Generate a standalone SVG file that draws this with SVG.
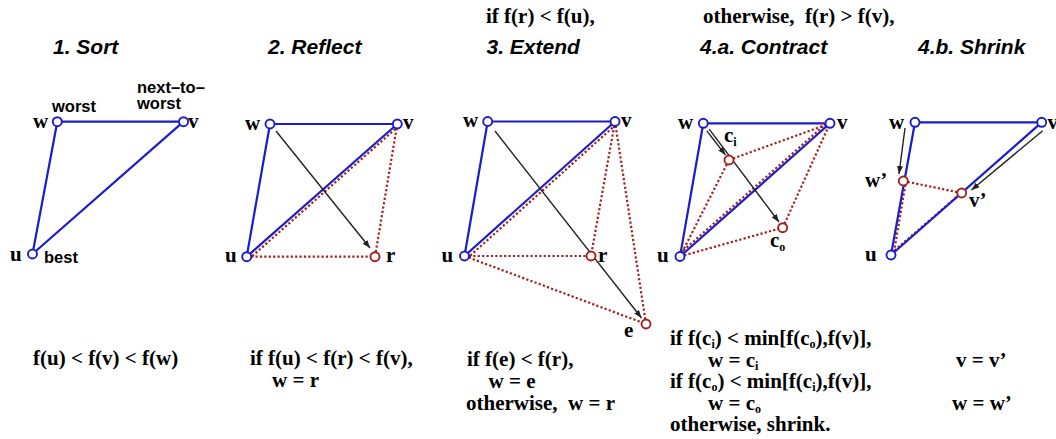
<svg xmlns="http://www.w3.org/2000/svg" width="1056" height="439" viewBox="0 0 1056 439">
<defs>
<marker id="ah" markerWidth="9" markerHeight="7" refX="8" refY="3" orient="auto" markerUnits="userSpaceOnUse"><path d="M0,0 L8,3 L0,6 z" fill="#222"/></marker>
<style>
.blue{stroke:#1c1cc8;stroke-width:2.2;fill:none}
.red{stroke:#a32020;stroke-width:2.2;stroke-dasharray:2.2 2.2;fill:none}
.arr{stroke:#222;stroke-width:1.4;fill:none;marker-end:url(#ah)}
.nb{fill:#fff;stroke:#1c1cc8;stroke-width:1.9}
.nr{fill:#fff;stroke:#a32020;stroke-width:1.9}
.lab{font-family:"Liberation Serif",serif;font-weight:bold;font-size:21px;fill:#000;white-space:pre}
.ttl{font-family:"Liberation Sans",sans-serif;font-weight:bold;font-style:italic;font-size:21px;fill:#000}
.sl{font-family:"Liberation Sans",sans-serif;font-weight:bold;font-size:16.5px;fill:#000}
.sub{font-size:12px}
</style>
</defs>
<rect width="1056" height="439" fill="#fff"/>

<g id="connectors">
  <!-- panel 1 -->
  <line class="blue" x1="57.3" y1="121.7" x2="183.5" y2="121.7"/>
  <line class="blue" x1="57.3" y1="121.7" x2="32.5" y2="254"/>
  <line class="blue" x1="32.5" y1="254" x2="183.5" y2="121.7"/>
  <!-- panel 2 -->
  <line class="red" x1="249" y1="259" x2="397" y2="127.5"/>
  <line class="red" x1="397.3" y1="124" x2="375" y2="256.7"/>
  <line class="red" x1="246.7" y1="256.7" x2="375" y2="256.7"/>
  <line class="blue" x1="270" y1="124" x2="397.3" y2="124"/>
  <line class="blue" x1="270" y1="124" x2="246.7" y2="256.7"/>
  <line class="blue" x1="246.7" y1="256.7" x2="397.3" y2="124"/>
  <line class="arr" x1="276" y1="131" x2="370" y2="248"/>
  <!-- panel 3 -->
  <line class="red" x1="467" y1="258.5" x2="615.5" y2="125"/>
  <line class="red" x1="615" y1="121.5" x2="591" y2="256"/>
  <line class="red" x1="464.5" y1="256" x2="591" y2="256"/>
  <line class="red" x1="464.5" y1="256" x2="646" y2="324"/>
  <line class="red" x1="615" y1="121.5" x2="646" y2="324"/>
  <line class="blue" x1="487.7" y1="121.5" x2="615" y2="121.5"/>
  <line class="blue" x1="487.7" y1="121.5" x2="464.5" y2="256"/>
  <line class="blue" x1="464.5" y1="256" x2="615" y2="121.5"/>
  <line class="arr" x1="495" y1="131" x2="641.5" y2="318"/>
  <!-- panel 4a -->
  <line class="red" x1="680" y1="253.5" x2="828" y2="122"/>
  <line class="red" x1="680" y1="256.5" x2="729" y2="160"/>
  <line class="red" x1="729" y1="160" x2="830" y2="123.3"/>
  <line class="red" x1="680" y1="256.5" x2="782.7" y2="227.7"/>
  <line class="red" x1="782.7" y1="227.7" x2="830" y2="123.3"/>
  <line class="blue" x1="703.3" y1="123.3" x2="830" y2="123.3"/>
  <line class="blue" x1="703.3" y1="123.3" x2="680" y2="256.5"/>
  <line class="blue" x1="680" y1="256.5" x2="830" y2="123.3"/>
  <line class="arr" x1="706.8" y1="130.9" x2="725.5" y2="155"/>
  <line class="arr" x1="709.2" y1="129.1" x2="779" y2="222"/>
  <!-- panel 4b -->
  <line class="red" x1="903.3" y1="181" x2="961.7" y2="193"/>
  <line class="red" x1="894" y1="252" x2="905.5" y2="184"/>
  <line class="red" x1="894.5" y1="250.5" x2="959.5" y2="194.5"/>
  <line class="blue" x1="915" y1="122.3" x2="1041.7" y2="122.3"/>
  <line class="blue" x1="915" y1="122.3" x2="891" y2="255"/>
  <line class="blue" x1="891" y1="255" x2="1041.7" y2="122.3"/>
  <line class="arr" x1="905" y1="128" x2="899" y2="174"/>
  <line class="arr" x1="1042.7" y1="130.7" x2="971.5" y2="190"/>
</g>

<g id="titles">
  <text class="lab" x="486" y="23">if f(r) &lt; f(u),</text>
  <text class="lab" x="703" y="23">otherwise,  f(r) &gt; f(v),</text>
  <text class="ttl" x="53" y="54">1. Sort</text>
  <text class="ttl" x="268" y="54">2. Reflect</text>
  <text class="ttl" x="486.5" y="54">3. Extend</text>
  <text class="ttl" x="700" y="54">4.a. Contract</text>
  <text class="ttl" x="918" y="54">4.b. Shrink</text>
</g>

<!-- panel 1 nodes -->
<g id="p1-w"><circle class="nb" cx="57.3" cy="121.7" r="4.5"/><text class="lab" x="33" y="128">w</text><text class="sl" x="52" y="112">worst</text></g>
<g id="p1-v"><circle class="nb" cx="183.5" cy="121.7" r="4.5"/><text class="lab" x="188" y="128">v</text><text class="sl" x="137" y="93">next–to–</text><text class="sl" x="137" y="109">worst</text></g>
<g id="p1-u"><circle class="nb" cx="32.5" cy="254" r="4.5"/><text class="lab" x="10" y="261">u</text><text class="sl" x="44" y="263">best</text></g>

<!-- panel 2 nodes -->
<g id="p2-w"><circle class="nb" cx="270" cy="124" r="4.5"/><text class="lab" x="245" y="130">w</text></g>
<g id="p2-v"><circle class="nb" cx="397.3" cy="124" r="4.5"/><text class="lab" x="403" y="129">v</text></g>
<g id="p2-u"><circle class="nb" cx="246.7" cy="256.7" r="4.5"/><text class="lab" x="225" y="262">u</text></g>
<g id="p2-r"><circle class="nr" cx="375" cy="256.7" r="4.5"/><text class="lab" x="386" y="262">r</text></g>

<!-- panel 3 nodes -->
<g id="p3-w"><circle class="nb" cx="487.7" cy="121.5" r="4.5"/><text class="lab" x="463" y="127">w</text></g>
<g id="p3-v"><circle class="nb" cx="615" cy="121.5" r="4.5"/><text class="lab" x="621" y="127">v</text></g>
<g id="p3-u"><circle class="nb" cx="464.5" cy="256" r="4.5"/><text class="lab" x="441.5" y="262">u</text></g>
<g id="p3-r"><circle class="nr" cx="591" cy="256" r="4.5"/><text class="lab" x="598" y="262">r</text></g>
<g id="p3-e"><circle class="nr" cx="646" cy="324" r="4.5"/><text class="lab" x="624" y="337">e</text></g>

<!-- panel 4a nodes -->
<g id="p4a-w"><circle class="nb" cx="703.3" cy="123.3" r="4.5"/><text class="lab" x="678" y="128.5">w</text></g>
<g id="p4a-v"><circle class="nb" cx="830" cy="123.3" r="4.5"/><text class="lab" x="837" y="128.5">v</text></g>
<g id="p4a-u"><circle class="nb" cx="680" cy="256.5" r="4.5"/><text class="lab" x="657" y="262">u</text></g>
<g id="p4a-ci"><circle class="nr" cx="729" cy="160" r="4.5"/><text class="lab" x="724" y="142">c<tspan class="sub" dy="4">i</tspan></text></g>
<g id="p4a-co"><circle class="nr" cx="782.7" cy="227.7" r="4.5"/><text class="lab" x="770" y="246.5">c<tspan class="sub" dy="4">o</tspan></text></g>

<!-- panel 4b nodes -->
<g id="p4b-w"><circle class="nb" cx="915" cy="122.3" r="4.5"/><text class="lab" x="889" y="128.5">w</text></g>
<g id="p4b-v"><circle class="nb" cx="1041.7" cy="122.3" r="4.5"/><text class="lab" x="1047.5" y="128.5">v</text></g>
<g id="p4b-u"><circle class="nb" cx="891" cy="255" r="4.5"/><text class="lab" x="865" y="261">u</text></g>
<g id="p4b-wp"><circle class="nr" cx="903.3" cy="181" r="4.5"/><text class="lab" x="865" y="187">w’</text></g>
<g id="p4b-vp"><circle class="nr" cx="961.7" cy="193" r="4.5"/><text class="lab" x="969" y="207">v’</text></g>

<g id="conditions">
  <text class="lab" x="33" y="365">f(u) &lt; f(v) &lt; f(w)</text>
  <text class="lab" x="250" y="365">if f(u) &lt; f(r) &lt; f(v),</text>
  <text class="lab" x="272" y="387">w = r</text>
  <text class="lab" x="467" y="366">if f(e) &lt; f(r),</text>
  <text class="lab" x="488.5" y="387.5">w = e</text>
  <text class="lab" x="466" y="409.5">otherwise,  w = r</text>
  <text class="lab" x="670" y="345">if f(c<tspan class="sub" dy="3">i</tspan><tspan dy="-3">) &lt; min[f(c</tspan><tspan class="sub" dy="3">o</tspan><tspan dy="-3">),f(v)],</tspan></text>
  <text class="lab" x="708" y="366.5">w = c<tspan class="sub" dy="3">i</tspan></text>
  <text class="lab" x="670" y="388">if f(c<tspan class="sub" dy="3">o</tspan><tspan dy="-3">) &lt; min[f(c</tspan><tspan class="sub" dy="3">i</tspan><tspan dy="-3">),f(v)],</tspan></text>
  <text class="lab" x="708" y="409.5">w = c<tspan class="sub" dy="3">o</tspan></text>
  <text class="lab" x="670" y="431">otherwise, shrink.</text>
  <text class="lab" x="956" y="366.5">v = v’</text>
  <text class="lab" x="952" y="409.5">w = w’</text>
</g>
</svg>
